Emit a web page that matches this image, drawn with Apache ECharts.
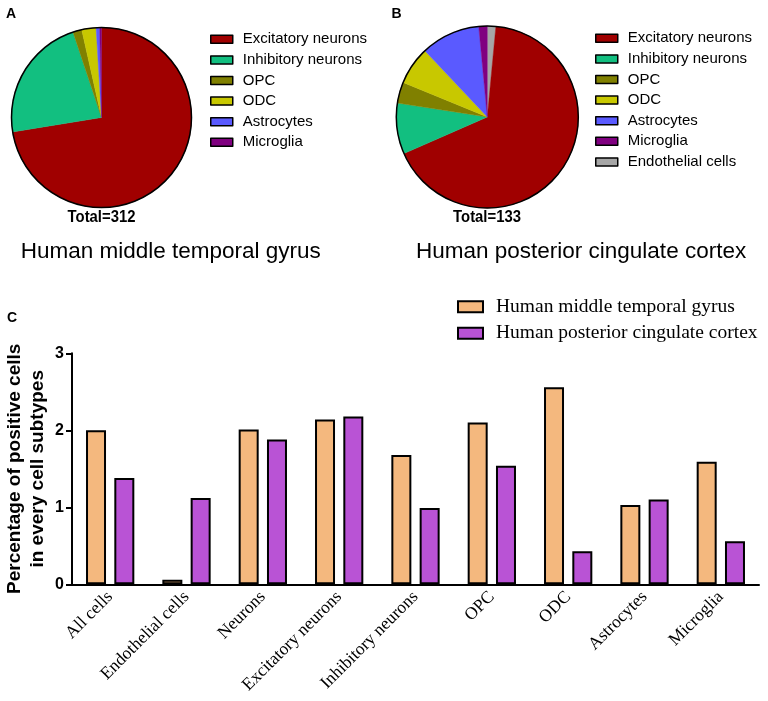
<!DOCTYPE html>
<html><head><meta charset="utf-8">
<script src="https://cdn.jsdelivr.net/npm/echarts@6/dist/echarts.min.js"></script>
<style>html,body{margin:0;padding:0;background:#fff}#c{width:768px;height:701px}</style>
</head><body><div id="c"></div>
<script>
// Pie A: Human middle temporal gyrus (total 312)
const pieANames = ['Excitatory neurons','Inhibitory neurons','OPC','ODC','Astrocytes','Microglia'];
const pieAValues = [226, 70, 5, 8, 2, 1];
// Pie B: Human posterior cingulate cortex (total 133), drawn clockwise from the top
const pieBNames = ['Endothelial cells','Excitatory neurons','Inhibitory neurons','OPC','ODC','Astrocytes','Microglia'];
const pieBValues = [2, 89, 12, 5, 9, 14, 2];
const legendANames = ['Excitatory neurons','Inhibitory neurons','OPC','ODC','Astrocytes','Microglia'];
const legendBNames = ['Excitatory neurons','Inhibitory neurons','OPC','ODC','Astrocytes','Microglia','Endothelial cells'];
// Bar chart C
const barCategories = ['All cells','Endothelial cells','Neurons','Excitatory neurons','Inhibitory neurons','OPC','ODC','Astrocytes','Microglia'];
const barMTG = [2.00, 0.06, 2.01, 2.14, 1.68, 2.10, 2.56, 1.03, 1.59];
const barPCC = [1.38, 1.12, 1.88, 2.18, 0.99, 1.54, 0.43, 1.10, 0.56];
const yTicks = [0, 1, 2, 3];

const sliceColors = {
  'Excitatory neurons':'#A00000','Inhibitory neurons':'#12BF80','OPC':'#808000','ODC':'#C8C800',
  'Astrocytes':'#5A5AFF','Microglia':'#800080','Endothelial cells':'#A6A6A6'
};
function pieData(names, values){
  return names.map((n,i)=>({name:n, value:values[i], itemStyle:{color:sliceColors[n], borderColor:sliceColors[n], borderWidth:0.4}}));
}
const SANS = 'Arial, "Liberation Sans", sans-serif';
const SERIF = '"Times New Roman", "Liberation Serif", serif';

const chart = echarts.init(document.getElementById('c'), null, {renderer:'canvas'});
const pieLegendCommon = {
  orient:'vertical', itemWidth:22, itemHeight:8, itemGap:4.6, icon:'rect', padding:0,
  itemStyle:{borderColor:'#000', borderWidth:1.5},
  textStyle:{fontSize:15, fontFamily:SANS, color:'#000', lineHeight:16, padding:[0,0,0,5]},
  selectedMode:false
};
const outline = (c, r) => ({
  type:'pie', center:c, radius:r, silent:true, label:{show:false}, labelLine:{show:false},
  data:[{value:1, name:'', itemStyle:{color:'rgba(0,0,0,0)', borderColor:'#000', borderWidth:1.5}}],
  z:5, animation:false
});
chart.setOption({
  animation:false,
  backgroundColor:'#fff',
  legend:[
    Object.assign({}, pieLegendCommon, {left:210, top:31.3, data:legendANames}),
    Object.assign({}, pieLegendCommon, {left:595, top:30.3, data:legendBNames}),
    {orient:'vertical', left:457, top:296.7, itemWidth:25, itemHeight:11, itemGap:6.6, icon:'rect', padding:0,
     itemStyle:{borderColor:'#000', borderWidth:2}, selectedMode:false,
     textStyle:{fontSize:19.5, fontFamily:SERIF, color:'#000', lineHeight:20, padding:[0,0,0,8]},
     data:['Human middle temporal gyrus','Human posterior cingulate cortex']}
  ],
  grid:{left:72, right:9, top:353.3, bottom:116.7, containLabel:false, outerBoundsMode:'none'},
  xAxis:{type:'category', data:barCategories, boundaryGap:true,
    axisLine:{lineStyle:{color:'#000', width:2}},
    axisTick:{alignWithLabel:true, length:5, lineStyle:{color:'#000', width:2}},
    axisLabel:{rotate:45, fontSize:17.5, fontFamily:SERIF, color:'#000', margin:10, interval:0}},
  yAxis:{type:'value', min:0, max:3, interval:1,
    axisLine:{show:true, lineStyle:{color:'#000', width:2}},
    axisTick:{show:true, length:6, lineStyle:{color:'#000', width:2}},
    splitLine:{show:false},
    axisLabel:{fontSize:16, fontWeight:'bold', fontFamily:SANS, color:'#000', margin:8,
      formatter:(v)=> yTicks.includes(v) ? String(v) : ''},
    name:'Percentage of positive cells\nin every cell subtypes', nameLocation:'middle', nameRotate:90, nameGap:23,
    nameMoveOverlap:false,
    nameTextStyle:{fontSize:19, fontWeight:'bold', fontFamily:SANS, color:'#000', lineHeight:23, align:'center'}},
  series:[
    {type:'pie', name:'A', center:[101.5,117.5], radius:90, startAngle:90, clockwise:true,
     label:{show:false}, labelLine:{show:false}, data:pieData(pieANames, pieAValues)},
    outline([101.5,117.5], 90),
    {type:'pie', name:'B', center:[487.3,117], radius:91, startAngle:90, clockwise:true,
     label:{show:false}, labelLine:{show:false}, data:pieData(pieBNames, pieBValues)},
    outline([487.3,117], 91),
    {type:'bar', name:'Human middle temporal gyrus', data:barMTG, barWidth:20, barGap:'41.5%',
     itemStyle:{color:'#F4B87E', borderColor:'#000', borderWidth:2}},
    {type:'bar', name:'Human posterior cingulate cortex', data:barPCC, barWidth:20, barGap:'41.5%',
     itemStyle:{color:'#B953D5', borderColor:'#000', borderWidth:2}}
  ],
  graphic:[
    {type:'text', x:6, y:7, style:{text:'A', font:'bold 14px '+SANS, fill:'#000', textVerticalAlign:'top'}},
    {type:'text', x:391.5, y:7.5, style:{text:'B', font:'bold 14px '+SANS, fill:'#000', textVerticalAlign:'top'}},
    {type:'text', x:7, y:311, style:{text:'C', font:'bold 14px '+SANS, fill:'#000', textVerticalAlign:'top'}},
    {type:'text', x:101.5, y:217, scaleX:0.9, style:{text:'Total=312', font:'bold 16.5px '+SANS, fill:'#000', textAlign:'center', textVerticalAlign:'middle'}},
    {type:'text', x:487, y:217, scaleX:0.9, style:{text:'Total=133', font:'bold 16.5px '+SANS, fill:'#000', textAlign:'center', textVerticalAlign:'middle'}},
    {type:'text', x:20.7, y:252, style:{text:'Human middle temporal gyrus', font:'22.5px '+SANS, fill:'#000', textAlign:'left', textVerticalAlign:'middle'}},
    {type:'text', x:416, y:252, style:{text:'Human posterior cingulate cortex', font:'22.5px '+SANS, fill:'#000', textAlign:'left', textVerticalAlign:'middle'}}
  ]
});
</script></body></html>
